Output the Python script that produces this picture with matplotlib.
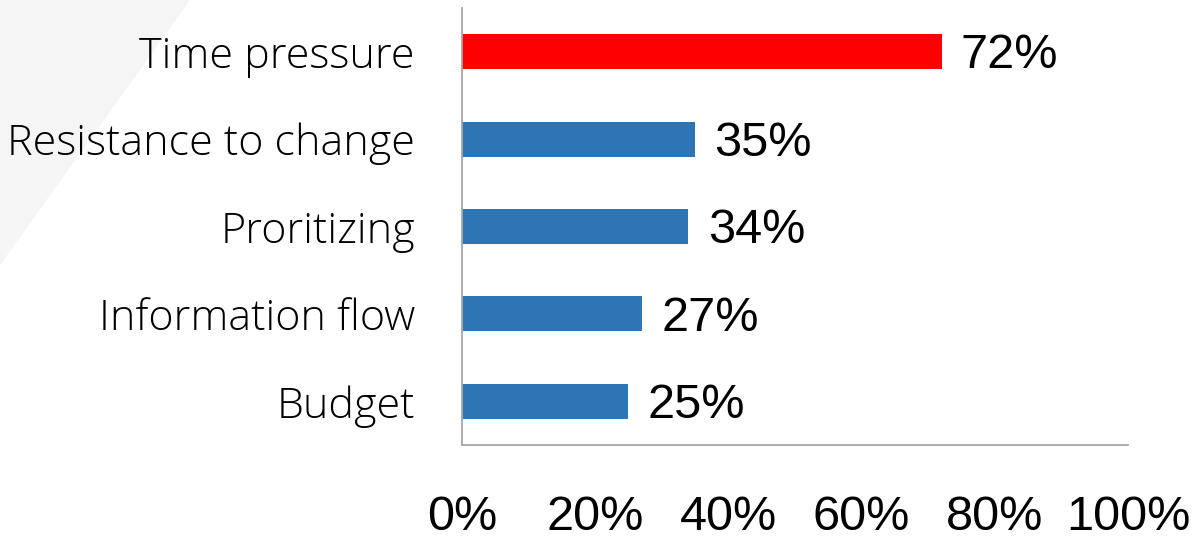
import matplotlib
matplotlib.use("Agg")
from matplotlib import pyplot as plt
from matplotlib.patches import Polygon

# Dados do gráfico
categories = ["Time pressure", "Resistance to change", "Proritizing", "Information flow", "Budget"]
values = [72, 35, 34, 27, 25]
bar_colors = ["#FF0000", "#2E75B6", "#2E75B6", "#2E75B6", "#2E75B6"]
xticks = [0, 20, 40, 60, 80, 100]
xtick_labels = ["0%", "20%", "40%", "60%", "80%", "100%"]

fig = plt.figure(figsize=(11.95, 5.39), dpi=100)

# Faixa cinza no canto superior esquerdo (atrás de tudo)
tri = Polygon([(0, 1), (190 / 1195, 1), (0, 1 - 265 / 539)], closed=True,
              transform=fig.transFigure, facecolor="#F5F5F5", edgecolor="none", zorder=-10)
fig.patches.append(tri)

ax = fig.add_axes([462 / 1195, 94 / 539, 666 / 1195, 437 / 539])
ax.patch.set_alpha(0)

ypos = list(range(len(categories)))
ax.barh(ypos, values, height=0.40, color=bar_colors, edgecolor="none")

for y, v in zip(ypos, values):
    ax.annotate(f"{v}%", xy=(v, y), xytext=(14, -3), textcoords="offset points",
                ha="left", va="center", fontsize=35, family="Liberation Sans")

ax.set_xlim(0, 100)
ax.set_ylim(len(categories) - 0.5, -0.5)
ax.set_yticks(ypos)
ax.set_yticklabels(categories, family="Open Sans", fontsize=31, fontweight="light")
ax.set_xticks(xticks)
ax.set_xticklabels(xtick_labels, family="Liberation Sans", fontsize=35)
ax.tick_params(axis="both", length=0)
ax.tick_params(axis="y", pad=34)
ax.tick_params(axis="x", pad=36)

for side in ["top", "right"]:
    ax.spines[side].set_visible(False)
for side in ["left", "bottom"]:
    ax.spines[side].set_color("#A6A6A6")
    ax.spines[side].set_linewidth(1.3)

fig.savefig("out.png", dpi=100)
